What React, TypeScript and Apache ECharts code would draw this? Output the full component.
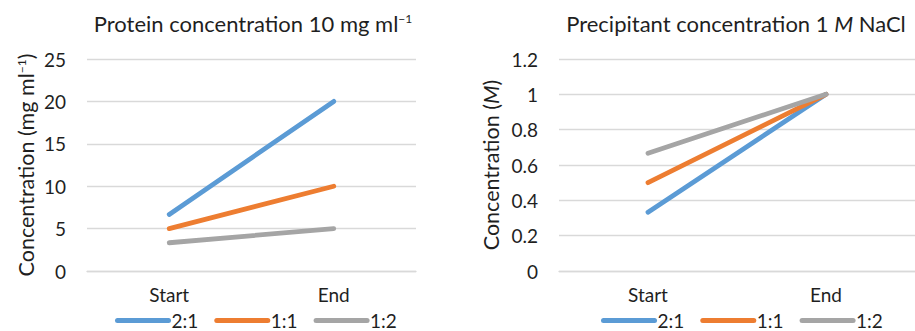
import React, { useEffect, useRef } from "react";
import * as echarts from "echarts";

const categories = ["Start", "End"];
const seriesNames = ["2:1", "1:1", "1:2"];
const proteinValues = [
  [6.67, 20],
  [5, 10],
  [3.33, 5],
];
const precipitantValues = [
  [0.333, 1],
  [0.5, 1],
  [0.667, 1],
];
const colors = ["#5B9BD5", "#ED7D31", "#A5A5A5"];

const FONT = "Lato, 'Open Sans', sans-serif";
const TXT = "#1f1f1f";

export default function App() {
  const ref = useRef<HTMLDivElement>(null);
  useEffect(() => {
    if (!ref.current) return;
    const chart = echarts.init(ref.current, undefined, { renderer: "svg" });
    const mkSeries = (vals: number[][], idx: number) =>
      vals.map((v, i) => ({
        type: "line",
        name: seriesNames[i],
        xAxisIndex: idx,
        yAxisIndex: idx,
        data: v,
        symbol: "none",
        lineStyle: { width: 4.8, color: colors[i], cap: "round" },
        itemStyle: { color: colors[i] },
      }));
    const axisLabel = { color: TXT, fontSize: 19, fontFamily: FONT };
    const legendBase = {
      top: 311,
      padding: 0,
      itemWidth: 51,
      itemHeight: 14,
      itemGap: 16,
      data: seriesNames.map((n) => ({ name: n })),
      itemStyle: { opacity: 0 },
      lineStyle: { width: 5, cap: "round" },
      textStyle: { color: TXT, fontSize: 19, fontFamily: FONT, padding: [0, 0, 0, -2] },
    };
    chart.setOption({
      animation: false,
      textStyle: { fontFamily: FONT },
      grid: [
        { left: 87, top: 59, width: 329, bottom: 60 },
        { left: 559, top: 59, width: 362, bottom: 60 },
      ],
      xAxis: [0, 1].map((g) => ({
        type: "category",
        gridIndex: g,
        data: categories,
        boundaryGap: true,
        axisLine: { lineStyle: { color: "#d9d9d9", width: 1.3 } },
        axisTick: { show: false },
        axisLabel: { ...axisLabel, margin: 14 },
      })),
      yAxis: [
        {
          type: "value",
          gridIndex: 0,
          min: 0,
          max: 25,
          interval: 5,
          axisLine: { show: false },
          axisTick: { show: false },
          splitLine: { lineStyle: { color: "#d9d9d9", width: 1.3 } },
          axisLabel: { ...axisLabel, margin: 21 },
          name: "Concentration (mg ml{sup|−1})",
          nameLocation: "middle",
          nameRotate: 90,
          nameGap: 50,
          nameTextStyle: {
            color: TXT,
            fontSize: 21.5,
            fontFamily: FONT,
            rich: { sup: { fontSize: 12, fontFamily: FONT, color: TXT, padding: [0, 0, 9, 0] } },
          },
        },
        {
          type: "value",
          gridIndex: 1,
          min: 0,
          max: 1.2,
          interval: 0.2,
          axisLine: { show: false },
          axisTick: { show: false },
          splitLine: { lineStyle: { color: "#d9d9d9", width: 1.3 } },
          axisLabel: { ...axisLabel, margin: 21 },
          name: "Concentration ({it|M})",
          nameLocation: "middle",
          nameRotate: 90,
          nameGap: 57,
          nameTextStyle: {
            color: TXT,
            fontSize: 21.5,
            fontFamily: FONT,
            rich: { it: { fontSize: 21.5, fontStyle: "italic", fontFamily: FONT, color: TXT } },
          },
        },
      ],
      legend: [
        { ...legendBase, left: 115 },
        { ...legendBase, left: 601 },
      ],
      graphic: [
        {
          type: "text",
          x: 253,
          y: 23,
          style: {
            text: "Protein concentration 10 mg ml{sup|−1}",
            align: "center",
            verticalAlign: "middle",
            textAlign: "center",
            textVerticalAlign: "middle",
            fontSize: 22,
            fontFamily: FONT,
            fill: TXT,
            rich: { sup: { fontSize: 12, fontFamily: FONT, fill: TXT, padding: [0, 0, 9, 0] } },
          },
        },
        {
          type: "text",
          x: 736,
          y: 23,
          style: {
            text: "Precipitant concentration 1 {it|M} NaCl",
            align: "center",
            verticalAlign: "middle",
            textAlign: "center",
            textVerticalAlign: "middle",
            fontSize: 22,
            fontFamily: FONT,
            fill: TXT,
            rich: { it: { fontSize: 22, fontStyle: "italic", fontFamily: FONT, fill: TXT } },
          },
        },
      ],
      series: [...mkSeries(proteinValues, 0), ...mkSeries(precipitantValues, 1)],
    });
    return () => chart.dispose();
  }, []);
  return (
    <div
      ref={ref}
      style={{ position: "fixed", left: 0, top: 0, width: 915, height: 331, background: "#fff" }}
    />
  );
}
